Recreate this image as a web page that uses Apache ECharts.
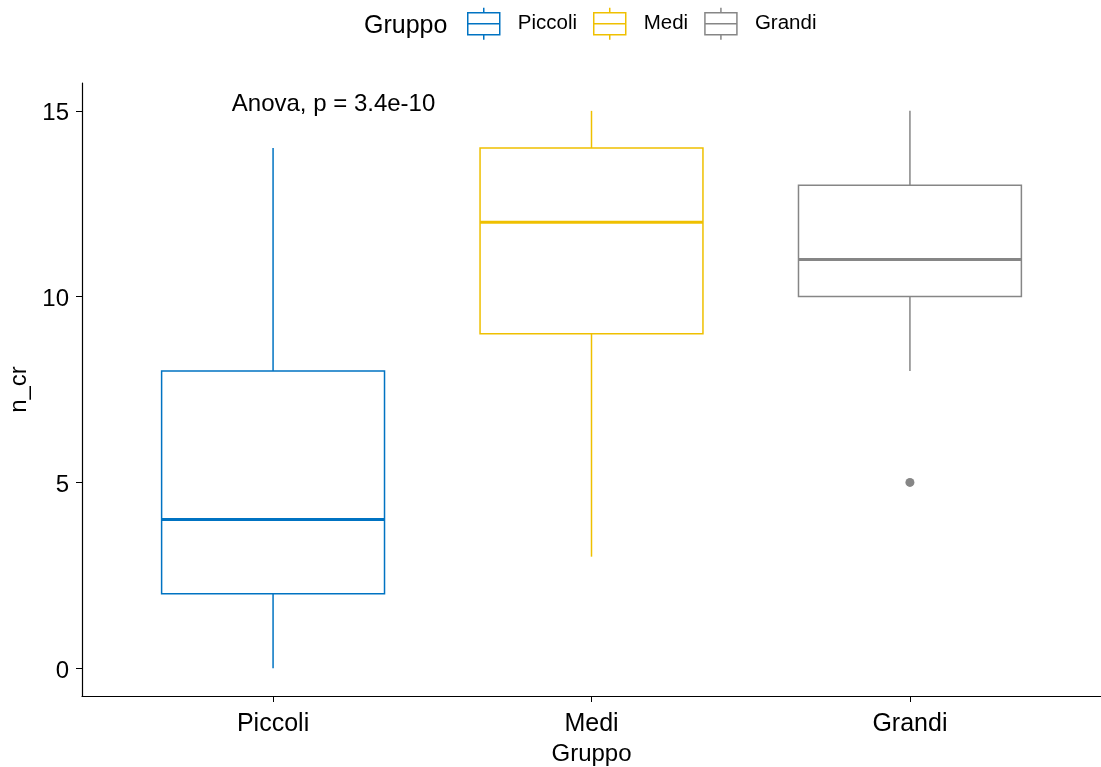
<!DOCTYPE html>
<html>
<head>
<meta charset="utf-8">
<script src="https://cdn.jsdelivr.net/npm/echarts@6/dist/echarts.min.js"></script>
<style>
  html, body { margin: 0; padding: 0; background: #fff; }
  #chart { width: 1101px; height: 767px; }
</style>
</head>
<body>
<div id="chart"></div>
<script>
// Five-number summaries of n_cr per group
const categories = ['Piccoli', 'Medi', 'Grandi'];
const colors = ['#0073C2', '#EFC000', '#868686'];
const whiskerLow = [0, 3, 8];
const q1 = [2, 9, 10];
const medians = [4, 12, 11];
const q3 = [8, 14, 13];
const whiskerHigh = [14, 15, 15];
// Outlying observations: [group index, value]
const outliers = [[2, 5]];
const yTicks = [0, 5, 10, 15];
const testLabel = 'Anova, p = 3.4e-10';

const FONT = '"Liberation Sans", Arial, sans-serif';
const BOX_WIDTH = 0.7;

const chart = echarts.init(document.getElementById('chart'));

const boxData = categories.map((c, i) => ({
  value: [i + 1, whiskerLow[i], q1[i], medians[i], q3[i], whiskerHigh[i]],
  name: c
}));

function renderBox(params, api) {
  const i = params.dataIndex;
  const x = api.value(0);
  const col = colors[i];
  const half = api.size([BOX_WIDTH, 0])[0] / 2;
  const pLow = api.coord([x, api.value(1)]);
  const pQ1 = api.coord([x, api.value(2)]);
  const pMed = api.coord([x, api.value(3)]);
  const pQ3 = api.coord([x, api.value(4)]);
  const pHigh = api.coord([x, api.value(5)]);
  const thin = { stroke: col, lineWidth: 1.5, fill: null };
  return {
    type: 'group',
    children: [
      { type: 'line', shape: { x1: pLow[0], y1: pLow[1], x2: pQ1[0], y2: pQ1[1] }, style: thin },
      { type: 'line', shape: { x1: pQ3[0], y1: pQ3[1], x2: pHigh[0], y2: pHigh[1] }, style: thin },
      { type: 'rect', shape: { x: pQ3[0] - half, y: pQ3[1], width: half * 2, height: pQ1[1] - pQ3[1] },
        style: { stroke: col, lineWidth: 1.5, fill: '#fff' } },
      { type: 'line', shape: { x1: pMed[0] - half, y1: pMed[1], x2: pMed[0] + half, y2: pMed[1] },
        style: { stroke: col, lineWidth: 3 } }
    ]
  };
}

// Legend glyph: box with median line and whisker stubs
const boxIcon = 'path://M16,0 L16,5 M0,5 L32,5 L32,27 L0,27 Z M0,16 L32,16 M16,27 L16,32';

const legendSeries = categories.map((c, i) => ({
  name: c,
  type: 'line',
  data: [],
  itemStyle: { color: '#fff', borderColor: colors[i], borderWidth: 1.5 },
  lineStyle: { color: colors[i] }
}));

chart.setOption({
  animation: false,
  backgroundColor: '#fff',
  title: {
    text: 'Gruppo',
    left: 364, top: 14, padding: 0,
    textStyle: { fontFamily: FONT, fontSize: 25, fontWeight: 'normal', color: '#000' }
  },
  legend: {
    left: 467, top: 7, padding: 0,
    itemWidth: 32, itemHeight: 32,
    itemGap: 16,
    icon: boxIcon,
    data: categories.map((c, i) => ({
      name: c,
      icon: boxIcon,
      itemStyle: { color: '#fff', borderColor: colors[i], borderWidth: 1.5 }
    })),
    textStyle: {
      fontFamily: FONT, fontSize: 20.5, color: '#000', padding: [0, 0, 0, 13],
      verticalAlign: 'top', lineHeight: 4
    }
  },
  grid: { left: 82, right: 0, top: 83, bottom: 71, containLabel: false, outerBoundsMode: 'none' },
  xAxis: {
    type: 'value',
    min: 0.4, max: 3.6,
    splitLine: { show: false },
    axisLine: { onZero: false, lineStyle: { color: '#000', width: 1.2 } },
    axisTick: { customValues: [1, 2, 3], length: 6, lineStyle: { color: '#000' } },
    axisLabel: {
      customValues: [1, 2, 3],
      formatter: v => categories[Math.round(v) - 1],
      fontFamily: FONT, fontSize: 25, color: '#000', margin: 16
    },
    name: 'Gruppo', nameLocation: 'middle', nameGap: 44,
    nameTextStyle: { fontFamily: FONT, fontSize: 24, color: '#000' }
  },
  yAxis: {
    type: 'value',
    min: -0.75, max: 15.75,
    splitLine: { show: false },
    axisLine: { show: true, onZero: false, lineStyle: { color: '#000', width: 1.2 } },
    axisTick: { show: true, customValues: yTicks, length: 6, lineStyle: { color: '#000' } },
    axisLabel: {
      customValues: yTicks, fontFamily: FONT, fontSize: 24, color: '#000', margin: 13,
      verticalAlign: 'top', lineHeight: 6
    },
    name: 'n_cr', nameLocation: 'middle', nameGap: 40,
    nameTextStyle: { fontFamily: FONT, fontSize: 24, color: '#000' }
  },
  series: [
    ...legendSeries,
    {
      type: 'custom',
      renderItem: renderBox,
      encode: { x: 0, y: [1, 2, 3, 4, 5] },
      data: boxData,
      z: 2
    },
    {
      type: 'scatter',
      data: outliers.map(o => [o[0] + 1, o[1]]),
      symbolSize: 9,
      itemStyle: { color: '#868686', opacity: 1 },
      z: 3
    },
    {
      type: 'scatter',
      data: [[1.19, 15.18]],
      symbolSize: 1,
      silent: true,
      itemStyle: { opacity: 0 },
      label: {
        show: true, position: 'inside', formatter: testLabel,
        fontFamily: FONT, fontSize: 24, color: '#000', opacity: 1
      }
    }
  ]
});
</script>
</body>
</html>
